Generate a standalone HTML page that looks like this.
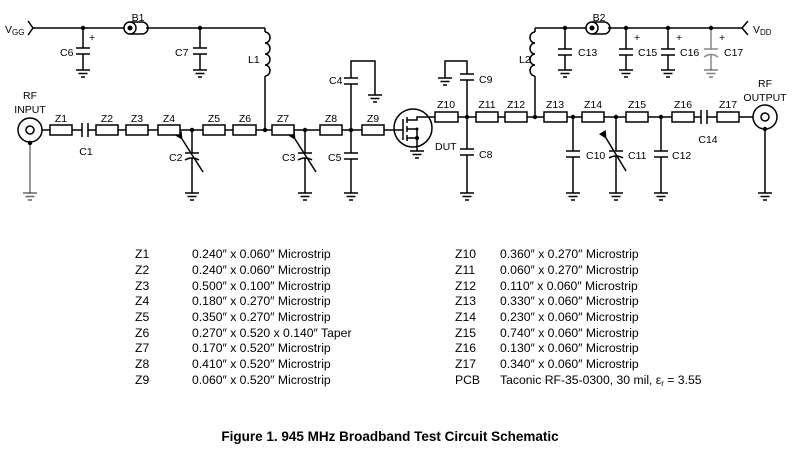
<!DOCTYPE html>
<html><head><meta charset="utf-8"><style>
html,body{margin:0;padding:0;background:#fff}
svg{display:block}
text{font-family:"Liberation Sans",Arial,sans-serif;fill:#000}
.l{font-size:10.5px}
.t{font-size:12.2px}
</style></head><body>
<svg width="799" height="457" viewBox="0 0 799 457" xmlns="http://www.w3.org/2000/svg">
<defs>
<g id="gnd" stroke="#000" stroke-width="1.5"><line x1="-7" y1="0" x2="7" y2="0"/><line x1="-4.5" y1="3.5" x2="4.5" y2="3.5"/><line x1="-2" y1="7" x2="2" y2="7"/></g>
<marker id="ah" markerWidth="8" markerHeight="8" refX="1" refY="4" orient="auto" markerUnits="userSpaceOnUse"><path d="M8,0 L0,4 L8,8 z" fill="#000"/></marker>
</defs>
<g stroke="#000" stroke-width="1.5" fill="none">
<polyline points="28,21 33,28 28,35"/>
<line x1="33" y1="28" x2="124" y2="28"/>
<line x1="146" y1="28" x2="265" y2="28"/>
<circle cx="130" cy="28" r="6"/><circle cx="130" cy="28" r="1.8" fill="#000"/>
<path d="M130,22 H142 A6,6 0 0 1 142,34 H130"/>
<line x1="83" y1="28" x2="83" y2="48"/><line x1="76" y1="48" x2="90" y2="48"/><line x1="76" y1="54" x2="90" y2="54"/><line x1="83" y1="54" x2="83" y2="70"/>
<line x1="200" y1="28" x2="200" y2="48"/><line x1="193" y1="48" x2="207" y2="48"/><line x1="193" y1="54" x2="207" y2="54"/><line x1="200" y1="54" x2="200" y2="70"/>
<line x1="265" y1="28" x2="265" y2="32"/>
<path d="M265,32 a5,5.5 0 0 1 0,11 a5,5.5 0 0 1 0,11 a5,5.5 0 0 1 0,11 a5,5.5 0 0 1 0,11"/>
<line x1="265" y1="76" x2="265" y2="130"/>
<line x1="42" y1="130" x2="82" y2="130"/><line x1="88" y1="130" x2="394" y2="130"/>
<line x1="82" y1="123" x2="82" y2="137"/><line x1="88" y1="123" x2="88" y2="137"/>
<circle cx="30" cy="130" r="12"/><circle cx="30" cy="130" r="4"/>
<line x1="30" y1="143" x2="30" y2="193" stroke="#777"/>
<line x1="192" y1="130" x2="192" y2="153"/><line x1="185" y1="153" x2="199" y2="153"/><path d="M185,160 Q192,156 199,160"/><line x1="192" y1="158" x2="192" y2="193"/>
<line x1="203" y1="172" x2="182" y2="139" marker-end="url(#ah)"/>
<line x1="305" y1="130" x2="305" y2="153"/><line x1="298" y1="153" x2="312" y2="153"/><path d="M298,160 Q305,156 312,160"/><line x1="305" y1="158" x2="305" y2="193"/>
<line x1="316" y1="172" x2="295" y2="139" marker-end="url(#ah)"/>
<line x1="351" y1="130" x2="351" y2="153"/><line x1="344" y1="153" x2="358" y2="153"/><line x1="344" y1="159" x2="358" y2="159"/><line x1="351" y1="159" x2="351" y2="193"/>
<line x1="351" y1="130" x2="351" y2="84"/><line x1="344" y1="84" x2="358" y2="84"/><line x1="344" y1="78" x2="358" y2="78"/>
<polyline points="351,78 351,61 375,61 375,95"/>
<circle cx="413" cy="128" r="19"/>
<line x1="394" y1="130" x2="403" y2="130"/>
<line x1="403" y1="119" x2="403" y2="140"/>
<line x1="407" y1="117" x2="407" y2="123"/><line x1="407" y1="126" x2="407" y2="132"/><line x1="407" y1="135" x2="407" y2="141"/>
<polyline points="407,120 417,120 417,117 431,117"/>
<line x1="407" y1="129" x2="417" y2="129"/>
<polyline points="407,138 417,138 417,129"/>
<line x1="417" y1="138" x2="417" y2="151"/>
<line x1="431" y1="117" x2="701" y2="117"/><line x1="707" y1="117" x2="753" y2="117"/>
<line x1="701" y1="110" x2="701" y2="124"/><line x1="707" y1="110" x2="707" y2="124"/>
<circle cx="765" cy="117" r="12"/><circle cx="765" cy="117" r="4"/>
<line x1="765" y1="129" x2="765" y2="193"/>
<line x1="467" y1="117" x2="467" y2="80"/><line x1="460" y1="80" x2="474" y2="80"/><line x1="460" y1="74" x2="474" y2="74"/>
<polyline points="467,74 467,61 445,61 445,78"/>
<line x1="467" y1="117" x2="467" y2="149"/><line x1="460" y1="149" x2="474" y2="149"/><line x1="460" y1="155" x2="474" y2="155"/><line x1="467" y1="155" x2="467" y2="193"/>
<line x1="535" y1="28" x2="535" y2="32"/>
<path d="M535,32 a5,5.5 0 0 0 0,11 a5,5.5 0 0 0 0,11 a5,5.5 0 0 0 0,11 a5,5.5 0 0 0 0,11"/>
<line x1="535" y1="76" x2="535" y2="117"/>
<line x1="535" y1="28" x2="586" y2="28"/><line x1="608" y1="28" x2="742" y2="28"/>
<circle cx="592" cy="28" r="6"/><circle cx="592" cy="28" r="1.8" fill="#000"/>
<path d="M592,22 H604 A6,6 0 0 1 604,34 H592"/>
<polyline points="748,21 742,28 748,35"/>
<line x1="565" y1="28" x2="565" y2="49"/><line x1="558" y1="49" x2="572" y2="49"/><line x1="558" y1="55" x2="572" y2="55"/><line x1="565" y1="55" x2="565" y2="70"/>
<line x1="626" y1="28" x2="626" y2="49"/><line x1="619" y1="49" x2="633" y2="49"/><line x1="619" y1="55" x2="633" y2="55"/><line x1="626" y1="55" x2="626" y2="70"/>
<line x1="668" y1="28" x2="668" y2="49"/><line x1="661" y1="49" x2="675" y2="49"/><line x1="661" y1="55" x2="675" y2="55"/><line x1="668" y1="55" x2="668" y2="70"/>
<g stroke="#888"><line x1="711" y1="28" x2="711" y2="49"/><line x1="704" y1="49" x2="718" y2="49"/><path d="M704,57 Q711,52 718,57"/><line x1="711" y1="54" x2="711" y2="70"/></g>
<line x1="573" y1="117" x2="573" y2="151"/><line x1="566" y1="151" x2="580" y2="151"/><line x1="566" y1="157" x2="580" y2="157"/><line x1="573" y1="157" x2="573" y2="193"/>
<line x1="616" y1="117" x2="616" y2="151"/><line x1="609" y1="151" x2="623" y2="151"/><path d="M609,158 Q616,154 623,158"/><line x1="616" y1="156" x2="616" y2="193"/>
<line x1="626" y1="171" x2="606" y2="138" marker-end="url(#ah)"/>
<line x1="661" y1="117" x2="661" y2="151"/><line x1="654" y1="151" x2="668" y2="151"/><line x1="654" y1="157" x2="668" y2="157"/><line x1="661" y1="157" x2="661" y2="193"/>
</g>
<g stroke="#000" stroke-width="1.5" fill="#fff">
<rect x="50" y="125" width="22" height="10"/><rect x="96" y="125" width="22" height="10"/><rect x="126" y="125" width="22" height="10"/><rect x="158" y="125" width="22" height="10"/>
<rect x="203" y="125" width="22" height="10"/><rect x="233" y="125" width="23" height="10"/><rect x="272" y="125" width="22" height="10"/><rect x="320" y="125" width="22" height="10"/><rect x="362" y="125" width="22" height="10"/>
<rect x="435" y="112" width="23" height="10"/><rect x="476" y="112" width="22" height="10"/><rect x="505" y="112" width="22" height="10"/><rect x="544" y="112" width="23" height="10"/>
<rect x="582" y="112" width="22" height="10"/><rect x="626" y="112" width="22" height="10"/><rect x="672" y="112" width="22" height="10"/><rect x="717" y="112" width="22" height="10"/>
</g>
<g fill="#000">
<circle cx="83" cy="28" r="2.2"/><circle cx="200" cy="28" r="2.2"/><circle cx="30" cy="143" r="2.2"/>
<circle cx="192" cy="130" r="2.2"/><circle cx="265" cy="130" r="2.2"/><circle cx="305" cy="130" r="2.2"/><circle cx="351" cy="130" r="2.2"/>
<circle cx="417" cy="138" r="2"/><circle cx="417" cy="129" r="1.5"/>
<circle cx="467" cy="117" r="2.2"/><circle cx="535" cy="117" r="2.2"/><circle cx="573" cy="117" r="2.2"/><circle cx="616" cy="117" r="2.2"/><circle cx="661" cy="117" r="2.2"/><circle cx="765" cy="129" r="2.2"/>
<circle cx="565" cy="28" r="2.2"/><circle cx="626" cy="28" r="2.2"/><circle cx="668" cy="28" r="2.2"/><circle cx="711" cy="28" r="2.2"/>
</g>
<use href="#gnd" x="83" y="70"/><use href="#gnd" x="200" y="70"/><use href="#gnd" x="30" y="193" opacity="0.6"/>
<use href="#gnd" x="192" y="193"/><use href="#gnd" x="305" y="193"/><use href="#gnd" x="351" y="193"/><use href="#gnd" x="375" y="95"/>
<use href="#gnd" x="417" y="151"/><use href="#gnd" x="445" y="78"/><use href="#gnd" x="467" y="193"/>
<use href="#gnd" x="573" y="193"/><use href="#gnd" x="616" y="193"/><use href="#gnd" x="661" y="193"/><use href="#gnd" x="765" y="193"/>
<use href="#gnd" x="565" y="70"/><use href="#gnd" x="626" y="70"/><use href="#gnd" x="668" y="70"/><use href="#gnd" x="711" y="70" opacity="0.5"/>
<g class="l" text-anchor="middle">
<text x="61" y="122">Z1</text><text x="107" y="122">Z2</text><text x="137" y="122">Z3</text><text x="169" y="122">Z4</text>
<text x="214" y="122">Z5</text><text x="245" y="122">Z6</text><text x="283" y="122">Z7</text><text x="331" y="122">Z8</text><text x="373" y="122">Z9</text>
<text x="446" y="108">Z10</text><text x="487" y="108">Z11</text><text x="516" y="108">Z12</text><text x="555" y="108">Z13</text>
<text x="593" y="108">Z14</text><text x="637" y="108">Z15</text><text x="683" y="108">Z16</text><text x="728" y="108">Z17</text>
<text x="86" y="155">C1</text><text x="138" y="21">B1</text><text x="599" y="21">B2</text>
<text x="30" y="99">RF</text><text x="30" y="113">INPUT</text>
<text x="765" y="87">RF</text><text x="765" y="101">OUTPUT</text>
<text x="708" y="143">C14</text>
</g>
<g class="l">
<text x="5" y="33">V<tspan font-size="8" dy="2">GG</tspan></text>
<text x="753" y="33">V<tspan font-size="8" dy="2">DD</tspan></text>
<text x="60" y="56">C6</text><text x="175" y="56">C7</text><text x="248" y="63">L1</text>
<text x="169" y="161">C2</text><text x="282" y="161">C3</text><text x="328" y="161">C5</text><text x="329" y="84">C4</text>
<text x="435" y="150">DUT</text><text x="479" y="158">C8</text><text x="479" y="83">C9</text><text x="519" y="63">L2</text>
<text x="578" y="56">C13</text><text x="638" y="56">C15</text><text x="680" y="56">C16</text><text x="724" y="56">C17</text>
<text x="586" y="159">C10</text><text x="628" y="159">C11</text><text x="672" y="159">C12</text>
</g>
<g font-size="8" class="l"><text x="89" y="41">+</text><text x="634" y="41">+</text><text x="676" y="41">+</text><text x="719" y="41">+</text></g>
<g class="t">
<text x="135" y="258">Z1</text><text x="192" y="258">0.240″ x 0.060″ Microstrip</text>
<text x="135" y="274">Z2</text><text x="192" y="274">0.240″ x 0.060″ Microstrip</text>
<text x="135" y="290">Z3</text><text x="192" y="290">0.500″ x 0.100″ Microstrip</text>
<text x="135" y="305">Z4</text><text x="192" y="305">0.180″ x 0.270″ Microstrip</text>
<text x="135" y="321">Z5</text><text x="192" y="321">0.350″ x 0.270″ Microstrip</text>
<text x="135" y="337">Z6</text><text x="192" y="337">0.270″ x 0.520 x 0.140″ Taper</text>
<text x="135" y="352">Z7</text><text x="192" y="352">0.170″ x 0.520″ Microstrip</text>
<text x="135" y="368">Z8</text><text x="192" y="368">0.410″ x 0.520″ Microstrip</text>
<text x="135" y="384">Z9</text><text x="192" y="384">0.060″ x 0.520″ Microstrip</text>
<text x="455" y="258">Z10</text><text x="500" y="258">0.360″ x 0.270″ Microstrip</text>
<text x="455" y="274">Z11</text><text x="500" y="274">0.060″ x 0.270″ Microstrip</text>
<text x="455" y="290">Z12</text><text x="500" y="290">0.110″ x 0.060″ Microstrip</text>
<text x="455" y="305">Z13</text><text x="500" y="305">0.330″ x 0.060″ Microstrip</text>
<text x="455" y="321">Z14</text><text x="500" y="321">0.230″ x 0.060″ Microstrip</text>
<text x="455" y="337">Z15</text><text x="500" y="337">0.740″ x 0.060″ Microstrip</text>
<text x="455" y="352">Z16</text><text x="500" y="352">0.130″ x 0.060″ Microstrip</text>
<text x="455" y="368">Z17</text><text x="500" y="368">0.340″ x 0.060″ Microstrip</text>
<text x="455" y="384">PCB</text><text x="500" y="384">Taconic RF-35-0300, 30 mil, ε<tspan font-size="8" dy="2">r</tspan><tspan dy="-2"> = 3.55</tspan></text>
</g>
<text x="390" y="441" text-anchor="middle" font-size="13.5" font-weight="bold">Figure 1. 945 MHz Broadband Test Circuit Schematic</text>
</svg>
</body></html>
